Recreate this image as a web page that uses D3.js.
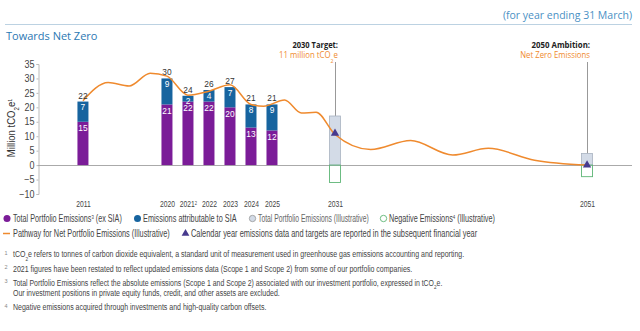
<!DOCTYPE html>
<html>
<head>
<meta charset="utf-8">
<script src="https://cdn.jsdelivr.net/npm/d3@7"></script>
<style>
  body { margin: 0; background: #fff; }
  svg { display: block; }
  .narrow { font-family: "Liberation Sans", Arial, sans-serif; }
  .axis text { font-family: "Liberation Sans", Arial, sans-serif; fill: #444; }
</style>
</head>
<body>
<script>
var w = 640;
var h = 331;

// category axis, blanks are empty slots
var axisLabels = ["2011", "", "", "", "2020", "2021", "2022", "2023", "2024", "2025",
                  "", "", "2031", "", "", "", "", "", "", "", "", "", "", "", "2051"];

var years = ["2011", "2020", "2021", "2022", "2023", "2024", "2025"];
var portfolioExSIA = [15, 21, 22, 22, 20, 13, 12];
var siaEmissions = [7, 9, 2, 4, 7, 8, 9];
var totals = [22, 30, 24, 26, 27, 21, 21];

var targetYears = ["2031", "2051"];
var illustrativeTotal = [17, 4];
var negativeEmissions = [-6, -4];
var netTargets = [11, 0];

// pathway: position on category axis, value
var pathwayPos = [0, 1.2, 2.2, 3.2, 4, 5, 6, 7, 8, 8.6, 9.6, 10.4, 11.1, 12,
                  13.7, 15.6, 17.6, 19.3, 21.5, 24];
var pathwayValues = [22.3, 28.6, 27.4, 31.8, 30.8, 24.2, 25.6, 27.8, 21.0, 20.4, 22.5, 18.0, 18.3, 10.6,
                     5.4, 8.5, 3.5, 5.8, 1.7, 0];

var yTicks = [-10, -5, 0, 5, 10, 15, 20, 25, 30, 35];

var purple = "#7b1c98";
var blue = "#17649f";
var orange = "#ef8a2e";

var svg = d3.select("body").append("svg")
    .attr("width", w)
    .attr("height", h);

var xScale = d3.scaleLinear()
    .domain([-2.14, axisLabels.length - 1 + 2.14])
    .range([38, 632]);
var yScale = d3.scaleLinear()
    .domain([-10, 35])
    .range([194, 64]);

function slot(label) {
    return axisLabels.indexOf(label);
}
var barW = 11;

// squeeze a text horizontally around its anchor x
function squeeze(sel, k) {
    sel.each(function() {
        var x = +d3.select(this).attr("x") || 0;
        d3.select(this).attr("transform",
            "translate(" + x + ",0) scale(" + k + ",1) translate(" + (-x) + ",0)");
    });
}
function fit(sel, width) {
    sel.each(function() {
        squeeze(d3.select(this), width / this.getBBox().width);
    });
}

// header
svg.append("line")
    .attr("x1", 5).attr("x2", 632)
    .attr("y1", 24.5).attr("y2", 24.5)
    .attr("stroke", "#bcd2e2");
svg.append("text")
    .attr("x", 632).attr("y", 19)
    .attr("text-anchor", "end")
    .attr("font-family", "Open Sans")
    .attr("font-size", "10.5px")
    .attr("fill", "#4a90c4")
    .text("(for year ending 31 March)");
svg.append("text")
    .attr("x", 6).attr("y", 40)
    .attr("font-family", "Open Sans")
    .attr("font-size", "11px")
    .attr("fill", "#2b78b3")
    .text("Towards Net Zero");

// y axis
var yAxis = d3.axisLeft(yScale)
    .tickValues(yTicks)
    .tickSize(2)
    .tickPadding(2);
var gy = svg.append("g")
    .attr("class", "axis")
    .attr("transform", "translate(38.5,0)")
    .call(yAxis);
gy.selectAll("path, line").attr("stroke", "#bbb");
gy.selectAll("text").attr("font-size", "10px");
squeeze(gy.selectAll("text"), 0.9);

// y label
var ylab = svg.append("g")
    .attr("transform", "translate(15,128) rotate(-90)")
    .append("text")
    .attr("class", "narrow")
    .attr("x", 0)
    .attr("text-anchor", "middle")
    .attr("font-size", "11px")
    .attr("fill", "#333");
ylab.append("tspan").text("Million tCO");
ylab.append("tspan").attr("baseline-shift", "sub").attr("font-size", "7px").text("2");
ylab.append("tspan").text("e");
ylab.append("tspan").attr("baseline-shift", "super").attr("font-size", "6px").text("1");
fit(ylab, 59);

// zero line
svg.append("line")
    .attr("x1", 38).attr("x2", 632)
    .attr("y1", Math.round(yScale(0)) + 0.5).attr("y2", Math.round(yScale(0)) + 0.5)
    .attr("stroke", "#aaa");

// x labels
var xAxis = d3.axisBottom(xScale)
    .tickValues(axisLabels.map(function(d, i) { return i; }).filter(function(i) { return axisLabels[i] !== ""; }))
    .tickSize(0)
    .tickFormat("");
var gx = svg.append("g")
    .attr("class", "axis")
    .attr("transform", "translate(0,199)")
    .call(xAxis);
gx.select(".domain").remove();
var xt = gx.selectAll(".tick").append("text")
    .attr("y", 8)
    .attr("text-anchor", "middle")
    .attr("font-size", "9px")
    .attr("fill", "#333")
    .each(function(i) {
        var t = d3.select(this);
        t.append("tspan").text(axisLabels[i]);
        if (axisLabels[i] === "2021") {
            t.append("tspan").attr("baseline-shift", "super").attr("font-size", "5.5px").text("2");
        }
    });
squeeze(xt, 0.75);

// guide lines for targets
svg.selectAll(".guide")
    .data(targetYears)
    .enter()
    .append("line")
    .attr("x1", function(d) { return Math.round(xScale(slot(d))) + 0.5; })
    .attr("x2", function(d) { return Math.round(xScale(slot(d))) + 0.5; })
    .attr("y1", 62)
    .attr("y2", function(d, i) { return yScale(illustrativeTotal[i]); })
    .attr("stroke", "#999");

// illustrative bars
svg.selectAll(".illus")
    .data(targetYears)
    .enter()
    .append("rect")
    .attr("x", function(d) { return xScale(slot(d)) - barW / 2; })
    .attr("y", function(d, i) { return yScale(illustrativeTotal[i]); })
    .attr("width", barW)
    .attr("height", function(d, i) { return yScale(0) - yScale(illustrativeTotal[i]); })
    .attr("fill", "#d3dbe7")
    .attr("stroke", "#a8b2c0")
    .attr("stroke-width", 0.8);
svg.selectAll(".neg")
    .data(targetYears)
    .enter()
    .append("rect")
    .attr("x", function(d) { return xScale(slot(d)) - barW / 2; })
    .attr("y", yScale(0))
    .attr("width", barW)
    .attr("height", function(d, i) { return yScale(negativeEmissions[i]) - yScale(0); })
    .attr("fill", "none")
    .attr("stroke", "#5db575")
    .attr("stroke-width", 0.9);

// stacked bars
svg.selectAll(".ex")
    .data(years)
    .enter()
    .append("rect")
    .attr("x", function(d) { return xScale(slot(d)) - barW / 2; })
    .attr("y", function(d, i) { return yScale(portfolioExSIA[i]); })
    .attr("width", barW)
    .attr("height", function(d, i) { return yScale(0) - yScale(portfolioExSIA[i]); })
    .attr("fill", purple);
svg.selectAll(".sia")
    .data(years)
    .enter()
    .append("rect")
    .attr("x", function(d) { return xScale(slot(d)) - barW / 2; })
    .attr("y", function(d, i) { return yScale(portfolioExSIA[i] + siaEmissions[i]); })
    .attr("width", barW)
    .attr("height", function(d, i) { return yScale(portfolioExSIA[i]) - yScale(portfolioExSIA[i] + siaEmissions[i]); })
    .attr("fill", blue);

// pathway line
var line = d3.line()
    .x(function(d) { return xScale(d[0]); })
    .y(function(d) { return yScale(d[1]); })
    .curve(d3.curveMonotoneX);
svg.append("path")
    .datum(d3.zip(pathwayPos, pathwayValues))
    .attr("d", line)
    .attr("fill", "none")
    .attr("stroke", orange)
    .attr("stroke-width", 1.5);

// bar labels
function labels(values, top, color, dy) {
    var t = svg.append("g").selectAll("text")
        .data(years)
        .enter()
        .append("text")
        .attr("class", "narrow")
        .attr("x", function(d) { return xScale(slot(d)); })
        .attr("y", function(d, i) { return yScale(top(i)) + dy; })
        .attr("text-anchor", "middle")
        .attr("font-size", "9.5px")
        .attr("fill", color)
        .text(function(d, i) { return values[i]; });
    squeeze(t, 0.88);
}
labels(portfolioExSIA, function(i) { return portfolioExSIA[i]; }, "#fff", 9.4);
labels(siaEmissions, function(i) { return portfolioExSIA[i] + siaEmissions[i]; }, "#fff", 8.6);
labels(totals, function(i) { return totals[i]; }, "#333", -3);

// triangles
svg.selectAll(".tri")
    .data(targetYears)
    .enter()
    .append("path")
    .attr("d", d3.symbol().type(d3.symbolTriangle).size(30))
    .attr("transform", function(d, i) {
        return "translate(" + xScale(slot(d)) + "," + yScale(netTargets[i]) + ")";
    })
    .attr("fill", "#473a8e");

// annotations
var notes = [["2030 Target:", "11 million tCO", "2", "e", 46, 59], ["2050 Ambition:", "Net Zero Emissions", "", "", 59, 70]];
notes.forEach(function(n, i) {
    var x = xScale(slot(targetYears[i])) + 3;
    var b = svg.append("text")
        .attr("x", x).attr("y", 48.5)
        .attr("text-anchor", "end")
        .attr("font-family", "Open Sans")
        .attr("font-weight", "bold")
        .attr("font-size", "9px")
        .attr("fill", "#222")
        .text(n[0]);
    fit(b, n[4]);
    var t = svg.append("text")
        .attr("x", x).attr("y", 58.5)
        .attr("text-anchor", "end")
        .attr("font-family", "Open Sans")
        .attr("font-size", "9px")
        .attr("fill", orange);
    t.append("tspan").text(n[1]);
    if (n[2]) {
        t.append("tspan").attr("baseline-shift", "sub").attr("font-size", "6px").text(n[2]);
        t.append("tspan").text(n[3]);
    }
    fit(t, n[5]);
});

// legend
var leg = svg.append("g").attr("class", "narrow").attr("font-size", "10px").attr("fill", "#444");
function legText(x, y, parts) {
    var t = leg.append("text").attr("x", x).attr("y", y);
    parts.forEach(function(p) {
        var s = t.append("tspan").text(p[0]);
        if (p[1]) s.attr("baseline-shift", "super").attr("font-size", "6px");
    });
    return t;
}
leg.append("circle").attr("cx", 7).attr("cy", 218.5).attr("r", 3.5).attr("fill", purple);
fit(legText(13, 222, [["Total Portfolio Emissions"], ["3", 1], [" (ex SIA)"]]), 109);
leg.append("circle").attr("cx", 137.5).attr("cy", 218.5).attr("r", 3.5).attr("fill", blue);
fit(legText(143, 222, [["Emissions attributable to SIA"]]), 94);
leg.append("circle").attr("cx", 252.5).attr("cy", 218.5).attr("r", 3.2).attr("fill", "#d3dbe7").attr("stroke", "#999").attr("stroke-width", 0.8);
fit(legText(258, 222, [["Total Portfolio Emissions (Illustrative)"]]).attr("fill", "#666"), 111);
leg.append("circle").attr("cx", 383.5).attr("cy", 218.5).attr("r", 3.2).attr("fill", "none").attr("stroke", "#5db575").attr("stroke-width", 0.9);
fit(legText(389, 222, [["Negative Emissions"], ["4", 1], [" (Illustrative)"]]), 106);
leg.append("line").attr("x1", 3).attr("x2", 10).attr("y1", 233.5).attr("y2", 233.5).attr("stroke", orange).attr("stroke-width", 1.5);
fit(legText(13, 237, [["Pathway for Net Portfolio Emissions (Illustrative)"]]), 157);
leg.append("path")
    .attr("d", d3.symbol().type(d3.symbolTriangle).size(26))
    .attr("transform", "translate(185.5,233.5)")
    .attr("fill", "#473a8e");
fit(legText(191, 237, [["Calendar year emissions data and targets are reported in the subsequent financial year"]]), 287);

// footnotes
var foot = svg.append("g").attr("class", "narrow").attr("font-size", "9px").attr("fill", "#444");
var footnotes = [
    ["1", 257.5, 452, [["tCO"], ["2", "sub"], ["e refers to tonnes of carbon dioxide equivalent, a standard unit of measurement used in greenhouse gas emissions accounting and reporting."]]],
    ["2", 272, 400, [["2021 figures have been restated to reflect updated emissions data (Scope 1 and Scope 2) from some of our portfolio companies."]]],
    ["3", 286, 430, [["Total Portfolio Emissions reflect the absolute emissions (Scope 1 and Scope 2) associated with our investment portfolio, expressed in tCO"], ["2", "sub"], ["e."]]],
    ["", 296, 267, [["Our investment positions in private equity funds, credit, and other assets are excluded."]]],
    ["4", 310.5, 254, [["Negative emissions acquired through investments and high-quality carbon offsets."]]]
];
footnotes.forEach(function(f) {
    if (f[0]) {
        foot.append("text").attr("x", 4.5).attr("y", f[1] - 3).attr("font-size", "5.5px").attr("fill", "#888").text(f[0]);
    }
    var t = foot.append("text").attr("x", 13).attr("y", f[1]);
    f[3].forEach(function(p) {
        var s = t.append("tspan").text(p[0]);
        if (p[1]) s.attr("baseline-shift", p[1]).attr("font-size", "6px");
    });
    fit(t, f[2]);
});
</script>
</body>
</html>
